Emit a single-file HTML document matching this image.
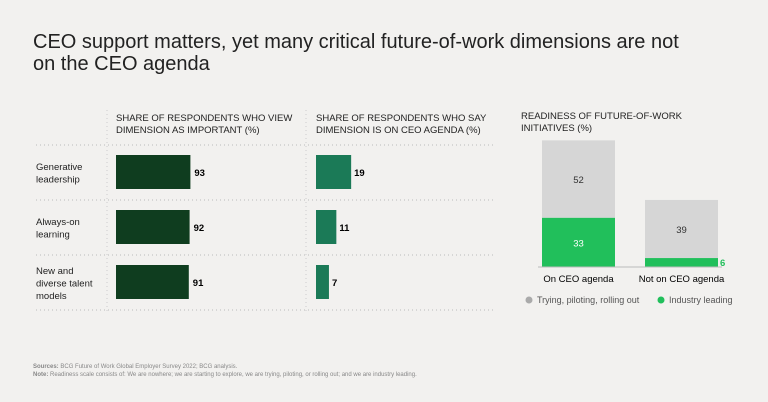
<!DOCTYPE html>
<html><head><meta charset="utf-8"><style>
body{margin:0;background:#f2f1ef;font-family:"Liberation Sans",sans-serif;color:#222}
#c{position:relative;width:768px;height:402px;overflow:hidden}
</style></head><body>
<div id="c">
<svg width="768" height="402">
<text x="33" y="48" font-size="20" fill="#222">CEO support matters, yet many critical future-of-work dimensions are not</text>
<text x="33" y="70" font-size="20" fill="#222">on the CEO agenda</text>
<g id="g"></g>
<text x="33" y="368" font-size="6" fill="#888"><tspan font-weight="bold">Sources:</tspan> BCG Future of Work Global Employer Survey 2022; BCG analysis.</text>
<text x="33" y="376" font-size="6" fill="#888"><tspan font-weight="bold">Note:</tspan> Readiness scale consists of: We are nowhere; we are starting to explore, we are trying, piloting, or rolling out; and we are industry leading.</text>
</svg>
</div>
<script>
const categories=[["Generative","leadership"],["Always-on","learning"],["New and","diverse talent","models"]];
const important=[93,92,91];
const onAgenda=[19,11,7];
const readinessGroups=["On CEO agenda","Not on CEO agenda"];
const industryLeading=[33,6];
const trying=[52,39];
const g=document.getElementById('g');
const NS="http://www.w3.org/2000/svg";
function mk(t,a,txt){const e=document.createElementNS(NS,t);for(const k in a)e.setAttribute(k,a[k]);if(txt!==undefined)e.textContent=txt;g.appendChild(e);return e;}
const xImp=v=>116+v*0.8, xAg=v=>316+v*1.85, yR=v=>267-v*1.49;
// headers
[["SHARE OF RESPONDENTS WHO VIEW","DIMENSION AS IMPORTANT (%)",116],["SHARE OF RESPONDENTS WHO SAY","DIMENSION IS ON CEO AGENDA (%)",316],["READINESS OF FUTURE-OF-WORK","INITIATIVES (%)",521]].forEach((h,i)=>{
 let t=mk('text',{x:h[2],y:i==2?119:121,'font-size':9.5,fill:'#222'},h[0]);
 
 t=mk('text',{x:h[2],y:i==2?131:133,'font-size':9.5,fill:'#222'},h[1]);
 
});
// grid
[145,200,255,310].forEach(y=>{const l=mk('line',{x1:36,x2:494,y1:y,y2:y,stroke:'#bbb','stroke-dasharray':'1 3'});
});
[107,306].forEach(x=>{const l=mk('line',{x1:x,x2:x,y1:110,y2:312,stroke:'#ccc','stroke-dasharray':'1 3'});
});
categories.forEach((c,i)=>{
 const top=155+i*55;
 const n=c.length, y0=top+17-(n-1)*6+4;
 c.forEach((s,j)=>{const t=mk('text',{x:36,y:y0+j*12.5,'font-size':9.5,fill:'#222'},s);
 });
 let r=mk('rect',{x:116,y:top,width:xImp(important[i])-116,height:34,fill:'#0f3d1f'});
 
 let t=mk('text',{x:xImp(important[i])+4,y:top+21,'font-size':9.5,'font-weight':'bold'},important[i]);
 
 r=mk('rect',{x:316,y:top,width:xAg(onAgenda[i])-316,height:34,fill:'#1b7a57'});
 
 t=mk('text',{x:xAg(onAgenda[i])+3,y:top+21,'font-size':9.5,'font-weight':'bold'},onAgenda[i]);
 
});
readinessGroups.forEach((name,i)=>{
 const x=542+i*103,w=73;
 let r=mk('rect',{x:x,y:yR(industryLeading[i]+trying[i]),width:w,height:yR(industryLeading[i])-yR(industryLeading[i]+trying[i]),fill:'#d6d6d6'});
 
 r=mk('rect',{x:x,y:yR(industryLeading[i]),width:w,height:267-yR(industryLeading[i]),fill:'#21bf5b'});
 
 let t=mk('text',{x:x+w/2,y:(yR(industryLeading[i])+yR(industryLeading[i]+trying[i]))/2+4,'font-size':9.5,'text-anchor':'middle',fill:'#333'},trying[i]);
 
 if(industryLeading[i]>15){t=mk('text',{x:x+w/2,y:(yR(industryLeading[i])+267)/2+4,'font-size':9.5,'text-anchor':'middle',fill:'#fff'},industryLeading[i]);}
 else{t=mk('text',{x:x+w+2,y:266,'font-size':9.5,'font-weight':'bold',fill:'#21bf5b'},industryLeading[i]);}
 
 t=mk('text',{x:x+w/2,y:282,'font-size':9.5,'text-anchor':'middle'},name);
 
});
let b=mk('line',{x1:538,x2:722,y1:267,y2:267,stroke:'#bbb'});
[["#aaa",529,"Trying, piloting, rolling out"],["#21bf5b",661,"Industry leading"]].forEach(l=>{
 let c=mk('circle',{cx:l[1],cy:300,r:3.5,fill:l[0]});
 let t=mk('text',{x:l[1]+8,y:303,'font-size':9,fill:'#555'},l[2]);
});
</script>
</body></html>
